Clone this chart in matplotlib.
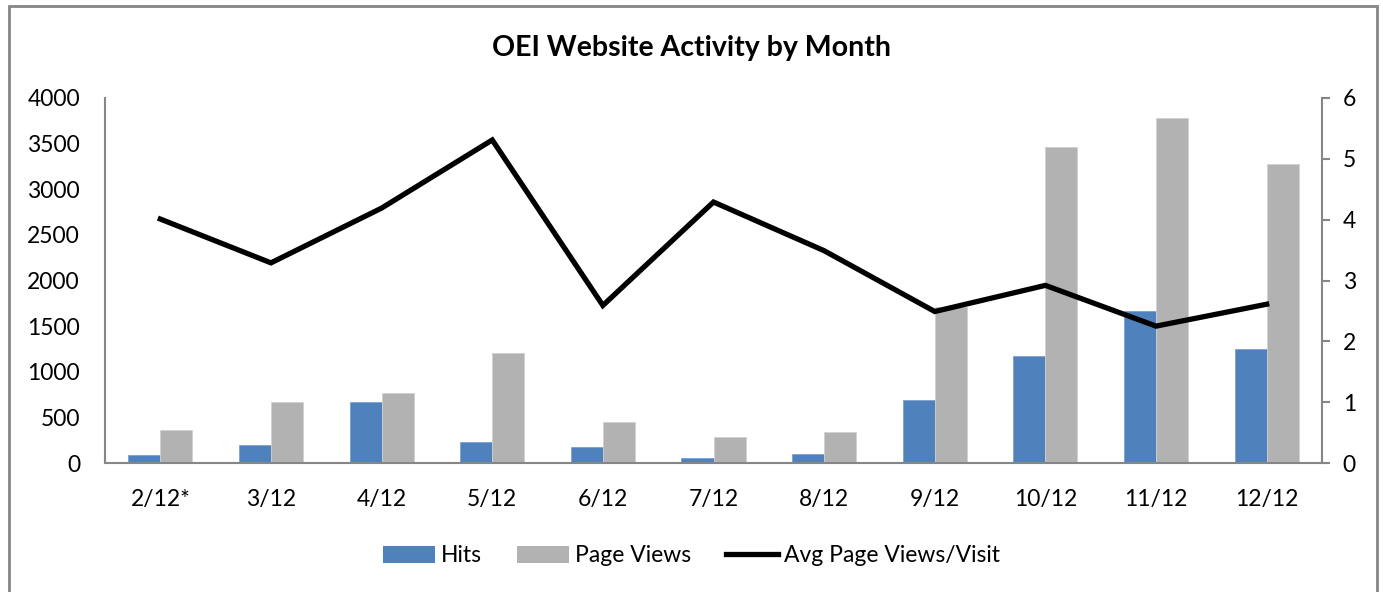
import matplotlib
matplotlib.use("Agg")
import matplotlib.pyplot as plt
import numpy as np
from matplotlib.patches import Rectangle, Patch
from matplotlib.lines import Line2D

plt.rcParams['font.family'] = ['Lato', 'DejaVu Sans']

months = ["2/12*", "3/12", "4/12", "5/12", "6/12", "7/12", "8/12", "9/12", "10/12", "11/12", "12/12"]
hits = [85, 195, 670, 225, 170, 60, 95, 690, 1170, 1665, 1250]
page_views = [365, 665, 770, 1205, 450, 290, 345, 1713, 3463, 3781, 3277]
avg_pv_visit = [4.01, 3.29, 4.19, 5.31, 2.59, 4.29, 3.49, 2.49, 2.92, 2.25, 2.61]

W, H = 1383, 592
fig = plt.figure(figsize=(W / 100, H / 100), dpi=100)
ax = fig.add_axes([105 / W, (H - 463) / H, (1322 - 105) / W, (463 - 98) / H])
ax2 = ax.twinx()

x = np.arange(len(months))
bw = 0.29
ax.bar(x - bw / 2, hits, bw, color="#4F81BD", edgecolor="#7EA1D0", linewidth=0.6, label="Hits", zorder=2)
ax.bar(x + bw / 2, page_views, bw, color="#B2B2B2", edgecolor="#D0D0D0", linewidth=0.6, label="Page Views", zorder=2)
ax2.plot(x, avg_pv_visit, color="black", linewidth=3.8, solid_joinstyle="miter", label="Avg Page Views/Visit")

axis_col = "#868686"
fs = 16.5
ax.set_xlim(-0.5, len(months) - 0.5)
ax.set_ylim(0, 4000)
ax.set_yticks(np.arange(0, 4001, 500))
ax2.set_ylim(0, 6)
ax2.set_yticks(range(0, 7))
ax.set_xticks(x)
ax.set_xticklabels(months)

for a in (ax, ax2):
    a.spines["top"].set_visible(False)
    for s in ("left", "right", "bottom"):
        a.spines[s].set_color(axis_col)
        a.spines[s].set_linewidth(1.5)
    a.set_facecolor("none")
ax.spines["right"].set_visible(False)
ax2.spines["left"].set_visible(False)
ax2.spines["bottom"].set_visible(False)

ax.tick_params(axis="y", length=0, pad=18, labelsize=fs, labelcolor="black")
ax.tick_params(axis="x", length=0, pad=19, labelsize=fs, labelcolor="black")
ax2.tick_params(axis="y", length=6, width=1.5, color=axis_col, pad=9, labelsize=fs, labelcolor="black")

fig.text(0.5, (H - 48) / H, "OEI Website Activity by Month", ha="center", va="center",
         fontsize=20.5, fontweight="bold")

handles = [Patch(facecolor="#4F81BD", label="Hits"),
           Patch(facecolor="#B2B2B2", label="Page Views"),
           Line2D([0], [0], color="black", linewidth=3.8, label="Avg Page Views/Visit")]
fig.legend(handles=handles, loc="center", bbox_to_anchor=(0.5, (H - 556) / H), ncol=3,
           frameon=False, fontsize=fs, handlelength=2.25, handleheight=0.8,
           handletextpad=0.26, columnspacing=1.55)

border = Rectangle((8.5 / W, -0.1), (1376.5 - 8.5) / W, (H - 6) / H + 0.1,
                   transform=fig.transFigure, fill=False, edgecolor=axis_col,
                   linewidth=2, clip_on=False)
fig.patches.append(border)

fig.savefig("out.png", dpi=100)
